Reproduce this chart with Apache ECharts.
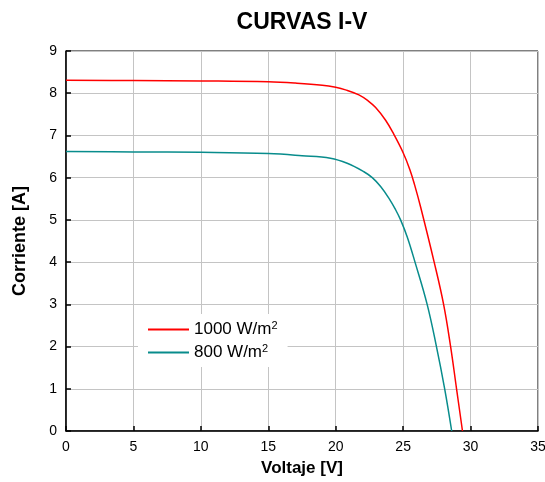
<!DOCTYPE html>
<html>
<head>
<meta charset="utf-8">
<script src="https://cdn.jsdelivr.net/npm/echarts@6/dist/echarts.min.js"></script>
<style>html,body{margin:0;padding:0;background:#fff}#c{width:545px;height:482px}</style>
</head>
<body>
<div id="c"></div>
<script>
const titleText = 'CURVAS I-V';
const xName = 'Voltaje [V]';
const yName = 'Corriente [A]';
const seriesNames = ['1000 W/m2', '800 W/m2'];
const volt1000 = [0, 5, 10, 15, 17, 19, 20, 20.73, 21.72, 22.4, 22.96, 23.7, 24.32, 25.0, 25.5, 25.85, 26.3, 27.3, 28.0, 28.52, 28.96, 29.4];
const curr1000 = [8.31, 8.30, 8.29, 8.27, 8.24, 8.19, 8.14, 8.08, 7.96, 7.82, 7.66, 7.36, 7.02, 6.59, 6.19, 5.83, 5.3, 4.0, 3.0, 2.0, 1.0, 0];
const volt800 = [0, 5, 10, 15, 17.5, 19.61, 20.85, 22.09, 22.71, 23.33, 23.95, 24.44, 24.81, 25.31, 25.88, 26.78, 27.47, 28.08, 28.6];
const curr800 = [6.62, 6.61, 6.60, 6.57, 6.52, 6.46, 6.34, 6.14, 6.0, 5.79, 5.51, 5.24, 5.0, 4.59, 4.0, 3.0, 2.0, 1.0, 0];
const xTicks = {min: 0, max: 35, interval: 5};
const yTicks = {min: 0, max: 9, interval: 1};

const FONT = '"Liberation Sans", Arial, sans-serif';
const chart = echarts.init(document.getElementById('c'));
const pairs = (xs, ys) => xs.map((x, i) => [x, ys[i]]);
chart.setOption({
  animation: false,
  backgroundColor: '#fff',
  title: {
    text: titleText, left: 297, textAlign: 'center', top: 6,
    textStyle: {fontFamily: FONT, fontSize: 23, fontWeight: 'bold', color: '#000'}
  },
  grid: {left: 66, right: 7, top: 51, bottom: 51, outerBoundsMode: 'none', show: true, borderColor: '#000', borderWidth: 1},
  legend: {
    orient: 'vertical', left: 138, top: 314, padding: [6, 10, 6, 10], itemGap: 5,
    itemWidth: 41, itemHeight: 2, icon: 'rect',
    backgroundColor: '#fff',
    data: seriesNames,
    formatter: n => '{a|' + n.slice(0, -1) + '}{s|' + n.slice(-1) + '}',
    textStyle: {
      fontFamily: FONT, color: '#000', padding: [0, 0, 0, 0],
      rich: {
        a: {fontFamily: FONT, fontSize: 17, color: '#000'},
        s: {fontFamily: FONT, fontSize: 11, color: '#000', verticalAlign: 'top', padding: [0, 0, 8, 0]}
      }
    }
  },
  xAxis: {
    type: 'value', min: xTicks.min, max: xTicks.max, interval: xTicks.interval,
    name: xName, nameLocation: 'middle', nameGap: 29,
    nameTextStyle: {fontFamily: FONT, fontSize: 17, fontWeight: 'bold', color: '#000'},
    axisLine: {show: true, lineStyle: {color: '#000', width: 1.5}},
    axisTick: {show: true, inside: true, length: 5, lineStyle: {color: '#000', width: 1.5}},
    axisLabel: {fontFamily: FONT, fontSize: 14, color: '#000', margin: 9},
    splitLine: {show: true, lineStyle: {color: '#c4c4c4', width: 1}}
  },
  yAxis: {
    type: 'value', min: yTicks.min, max: yTicks.max, interval: yTicks.interval,
    name: yName, nameLocation: 'middle', nameGap: 37, nameRotate: 90,
    nameTextStyle: {fontFamily: FONT, fontSize: 18, fontWeight: 'bold', color: '#000'},
    axisLine: {show: true, lineStyle: {color: '#000', width: 1.5}},
    axisTick: {show: true, inside: true, length: 5, lineStyle: {color: '#000', width: 1.5}},
    axisLabel: {fontFamily: FONT, fontSize: 14, color: '#000', margin: 9},
    splitLine: {show: true, lineStyle: {color: '#c4c4c4', width: 1}}
  },
  series: [
    {name: seriesNames[0], type: 'line', symbol: 'none', smooth: 0.4,
     data: pairs(volt1000, curr1000), lineStyle: {color: '#ff0000', width: 1.5}, itemStyle: {color: '#ff0000'}},
    {name: seriesNames[1], type: 'line', symbol: 'none', smooth: 0.4,
     data: pairs(volt800, curr800), lineStyle: {color: '#088c8c', width: 1.5}, itemStyle: {color: '#088c8c'}}
  ]
});
</script>
</body>
</html>
